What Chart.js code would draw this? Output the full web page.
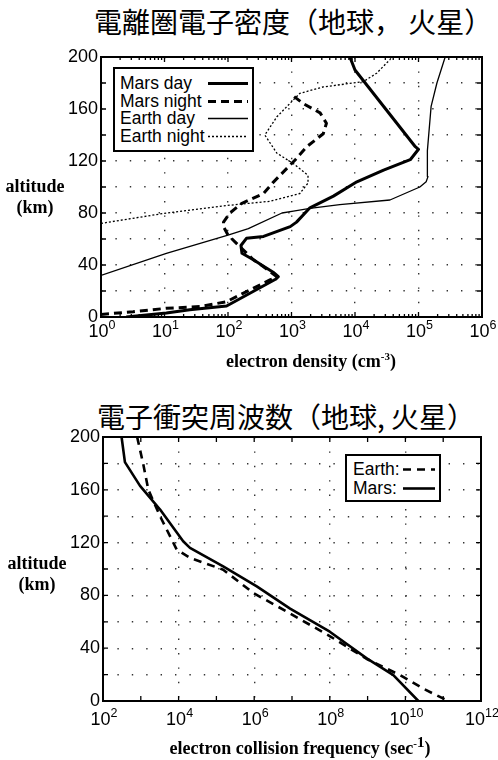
<!DOCTYPE html>
<html>
<head>
<meta charset="utf-8">
<script src="https://cdn.jsdelivr.net/npm/chart.js@4.4.1/dist/chart.umd.min.js"></script>
<style>
  body { margin: 0; background: #fff; }
  #page { position: relative; width: 498px; height: 760px; overflow: hidden; background: #fff;
          font-family: "Liberation Sans", Arial, sans-serif; }
  .panel { position: absolute; left: 0; width: 498px; height: 380px; }
  .title { position: absolute; font-family: "Noto Sans CJK JP", sans-serif; font-size: 28px;
           line-height: 28px; white-space: nowrap; color: #000; }
  .ylab, .xlab { position: absolute; font-family: "Liberation Serif", "Times New Roman", serif;
                 font-weight: bold; font-size: 18px; line-height: 21px; text-align: center; white-space: nowrap; }
  .xlab sup { font-size: 11px; position: relative; top: -7px; vertical-align: baseline; }
  .legend { position: absolute; box-sizing: border-box; border: 2px solid #000; background: #fff;
            font-size: 17.5px; }
  .legend .row { position: absolute; left: 0; right: 0; height: 18px; line-height: 18px; white-space: nowrap; }
  .legend .row span { position: absolute; }
  .legend .row svg { position: absolute; top: 0; }
</style>
</head>
<body>
<div id="page">
  <div class="title" style="left:94px;top:7px;">電離圏電子密度（地球， 火星）</div>
  <div class="panel" style="top:0;">
    <canvas id="densChart" width="498" height="380"></canvas>
  </div>
  <div class="ylab" style="left:0;width:70px;top:176px;">altitude<br>(km)</div>
  <div class="xlab" style="left:161px;width:300px;top:351px;">electron density (cm<sup>-3</sup>)</div>
  <div class="legend" id="densLegend" style="left:113px;top:67px;width:141px;height:85px;"></div>

  <div class="title" style="left:97px;top:402px;">電子衝突周波数（地球, 火星）</div>
  <div class="panel" style="top:380px;">
    <canvas id="freqChart" width="498" height="380"></canvas>
  </div>
  <div class="ylab" style="left:2px;width:70px;top:553px;">altitude<br>(km)</div>
  <div class="xlab" style="left:130px;width:340px;top:738px;">electron collision frequency (sec<sup>-<span style="font-size:15px">1</span></sup>)</div>
  <div class="legend" id="freqLegend" style="left:345px;top:454px;width:96px;height:48px;"></div>
</div>

<script>
// ─────────────────────────────────────────────
// Data: ionospheric electron density (cm^-3) vs altitude (km)
// ─────────────────────────────────────────────
const densTicks = [1, 10, 100, 1e3, 1e4, 1e5, 1e6];

const marsDayAlt    = [0, 3, 5.5, 8.5, 29, 31, 34, 39, 44, 49, 55, 60.5, 62, 69.5, 73, 84, 93, 104, 113, 121, 129, 131, 190, 200];
const marsDayDens   = [2.5, 10.7, 25, 95, 560, 620, 530, 363, 251, 166, 160, 195, 363, 955, 1200, 1950, 4570, 10700, 28200, 74100, 100000, 89100, 10000, 8300];

const marsNightAlt  = [2, 4, 6.7, 8, 11.8, 28.5, 31, 38.7, 44, 63, 69.5, 73, 80, 87.5, 95, 103, 121, 131, 141, 149, 157, 164, 169.5];
const marsNightDens = [1, 3.2, 10.7, 36, 95, 457, 589, 363, 251, 100, 85, 85, 107, 166, 363, 501, 1150, 1740, 3160, 3550, 2820, 1550, 1100];

const earthDayAlt   = [32, 49, 63, 68, 80, 81.5, 83.5, 86.5, 90, 100, 104, 108, 128, 162, 180, 200];
const earthDayDens  = [1, 10.7, 100, 209, 708, 1070, 1950, 5750, 35500, 105000, 132000, 141000, 138000, 158000, 195000, 263000];

const earthNightAlt  = [72, 80, 86, 89, 95, 103, 109, 118, 126, 140, 154, 167, 172, 177, 181, 187.5, 198, 200];
const earthNightDens = [1, 10.7, 107, 457, 1350, 1820, 1820, 1070, 589, 380, 589, 1070, 1350, 3160, 13500, 21900, 35500, 38000];

// ─────────────────────────────────────────────
// Data: electron collision frequency (sec^-1) vs altitude (km)
// ─────────────────────────────────────────────
const freqTicks = [1e2, 1e4, 1e6, 1e8, 1e10, 1e12];
const freqDecades = [1e2, 1e3, 1e4, 1e5, 1e6, 1e7, 1e8, 1e9, 1e10, 1e11, 1e12];

const earthCollAlt  = [200, 180, 160, 140, 114.7, 108.4, 99.5, 81.8, 67.8, 49, 32, 19.6, 9.4, 0];
const earthCollFreq = [800, 1150, 1585, 3236, 8900, 2.0e4, 1.51e5, 9.5e5, 7.2e6, 1.02e8, 9.3e8, 7.2e9, 2.95e10, 1.35e11];

const marsCollAlt   = [200, 181, 163, 145, 121, 116, 102, 86.8, 70, 52.5, 32.3, 19.6, 0];
const marsCollFreq  = [310, 380, 955, 3236, 1.32e4, 2.0e4, 1.51e5, 1.17e6, 8.9e6, 1.0e8, 9.5e8, 4.8e9, 2.2e10];

const altMin = 0, altMax = 200, altStep = 20, altLabelStep = 40;

// ─────────────────────────────────────────────
// Helpers
// ─────────────────────────────────────────────
function toPoints(xs, ys) {
  return ys.map((y, i) => ({ x: xs[i], y }));
}

function minorLogTicks(decades) {
  const out = [];
  for (let i = 0; i < decades.length - 1; i++) {
    for (let m = 2; m <= 9; m++) out.push(decades[i] * m);
  }
  return out;
}

Chart.defaults.font.family = '"Liberation Sans", Arial, sans-serif';
Chart.defaults.color = '#000';

// box round the plot, inward tick marks, and 10^n labels with a real superscript
const framePlugin = {
  id: 'frame',
  afterDraw(chart, args, opts) {
    const { ctx, chartArea: a, scales: { x, y } } = chart;
    ctx.save();
    ctx.strokeStyle = '#000';
    ctx.lineWidth = 1.3;
    ctx.beginPath();
    y.ticks.forEach((t) => {
      const py = y.getPixelForValue(t.value);
      ctx.moveTo(a.left, py);  ctx.lineTo(a.left + 5, py);
      ctx.moveTo(a.right, py); ctx.lineTo(a.right - 5, py);
    });
    (opts.major || []).forEach((v) => {
      const px = x.getPixelForValue(v);
      ctx.moveTo(px, a.bottom); ctx.lineTo(px, a.bottom - 5);
      ctx.moveTo(px, a.top);    ctx.lineTo(px, a.top + 5);
    });
    (opts.minor || []).forEach((v) => {
      const px = x.getPixelForValue(v);
      ctx.moveTo(px, a.bottom); ctx.lineTo(px, a.bottom - 3);
      ctx.moveTo(px, a.top);    ctx.lineTo(px, a.top + 3);
    });
    ctx.stroke();
    ctx.lineWidth = 2;
    ctx.strokeRect(a.left, a.top, a.right - a.left, a.bottom - a.top);

    // x tick labels "10" + exponent
    ctx.fillStyle = '#000';
    ctx.textBaseline = 'alphabetic';
    ctx.textAlign = 'left';
    const base = a.bottom + opts.labelOffset;
    x.ticks.forEach((t) => {
      const e = String(Math.round(Math.log10(t.value)));
      ctx.font = '18px "Liberation Sans", Arial, sans-serif';
      const wMain = ctx.measureText('10').width;
      ctx.font = '12.5px "Liberation Sans", Arial, sans-serif';
      const wExp = ctx.measureText(e).width;
      const px = x.getPixelForValue(t.value);
      const left = px - (wMain + wExp) / 2 + 1;
      ctx.font = '18px "Liberation Sans", Arial, sans-serif';
      ctx.fillText('10', left, base);
      ctx.font = '12.5px "Liberation Sans", Arial, sans-serif';
      ctx.fillText(e, left + wMain, base - 8);
    });
    ctx.restore();
  },
};

function lineSet(label, points, width, dash) {
  return {
    label,
    data: points,
    borderColor: '#000',
    borderWidth: width,
    borderDash: dash,
    borderCapStyle: 'butt',
    borderJoinStyle: 'round',
    pointRadius: 0,
    tension: 0,
    fill: false,
  };
}

const gridOpts = { color: '#333', lineWidth: 1.4, drawTicks: false };
const gridBorder = { display: false, dash: [1.4, 13] };

function createChart(canvasId, datasets, xTickValues, yWidth, xHeight, padRight, frame) {
  const ctx = document.getElementById(canvasId).getContext('2d');
  return new Chart(ctx, {
    type: 'line',
    data: { datasets },
    options: {
      responsive: false,
      animation: false,
      devicePixelRatio: 1,
      layout: { padding: { top: 57, right: padRight, left: 0, bottom: 0 } },
      plugins: { legend: { display: false }, tooltip: { enabled: false }, frame },
      scales: {
        x: {
          type: 'logarithmic',
          min: xTickValues[0],
          max: xTickValues[xTickValues.length - 1],
          afterBuildTicks: (s) => { s.ticks = xTickValues.map((v) => ({ value: v })); },
          afterFit: (s) => { s.height = xHeight; },
          ticks: { display: false, autoSkip: false },
          grid: gridOpts,
          border: gridBorder,
        },
        y: {
          type: 'linear',
          min: altMin,
          max: altMax,
          afterFit: (s) => { s.width = yWidth; },
          ticks: { stepSize: altStep, callback: (v) => (v % altLabelStep === 0 ? v : ''), font: { size: 18 }, padding: 3, autoSkip: false },
          grid: gridOpts,
          border: gridBorder,
        },
      },
    },
    plugins: [framePlugin],
  });
}

// ─────────────────────────────────────────────
// Charts
// ─────────────────────────────────────────────
const densChart = createChart('densChart', [
  lineSet('Mars day',    toPoints(marsDayDens, marsDayAlt),       3,   []),
  lineSet('Mars night',  toPoints(marsNightDens, marsNightAlt),   3,   [8, 5]),
  lineSet('Earth day',   toPoints(earthDayDens, earthDayAlt),     1.3, []),
  lineSet('Earth night', toPoints(earthNightDens, earthNightAlt), 1.3, [2, 2]),
], densTicks, 101, 63, 16, { major: densTicks, minor: minorLogTicks(densTicks), labelOffset: 20 });

const freqChart = createChart('freqChart', [
  lineSet('Earth:', toPoints(earthCollFreq, earthCollAlt), 2.6, [8, 6]),
  lineSet('Mars:',  toPoints(marsCollFreq, marsCollAlt),   2.6, []),
], freqTicks, 103, 59, 17, { major: freqDecades, minor: [], labelOffset: 24 });

// ─────────────────────────────────────────────
// Legends (text first, line sample on the right)
// ─────────────────────────────────────────────
function renderLegend(container, chart, cfg) {
  container.innerHTML = chart.data.datasets.map((ds, i) => {
    const top = cfg.top + i * cfg.step;
    const w = ds.borderWidth;
    const dash = ds.borderDash.length ? `stroke-dasharray="${ds.borderDash.join(' ')}"` : '';
    return `<div class="row" style="top:${top}px">
      <span style="left:${cfg.textLeft}px">${ds.label}</span>
      <svg style="left:${cfg.lineLeft}px" width="${cfg.lineWidth}" height="18">
        <line x1="0" y1="9.5" x2="${cfg.lineWidth}" y2="9.5" stroke="#000" stroke-width="${w}" ${dash}/>
      </svg>
    </div>`;
  }).join('');
}

renderLegend(document.getElementById('densLegend'), densChart,
  { top: 5, step: 17.5, textLeft: 5, lineLeft: 93, lineWidth: 40 });
renderLegend(document.getElementById('freqLegend'), freqChart,
  { top: 4, step: 19, textLeft: 6, lineLeft: 56, lineWidth: 32 });
</script>
</body>
</html>
